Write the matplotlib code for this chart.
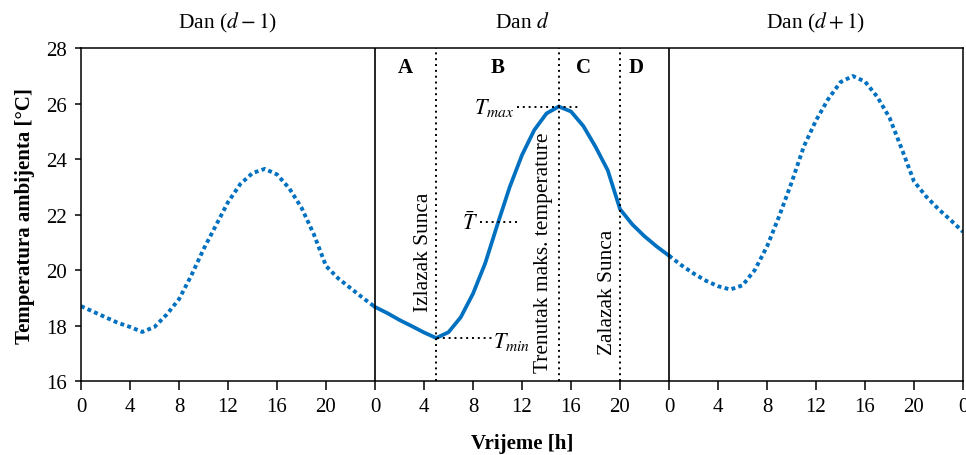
import matplotlib
matplotlib.use('Agg')
import matplotlib.pyplot as plt
import numpy as np

# Font settings (Times-like look)
plt.rcParams.update({
    'font.family': ['Liberation Serif', 'DejaVu Serif'],
    'mathtext.fontset': 'stix',
    'font.size': 15,
    'axes.linewidth': 1.1,
})

# Hourly ambient temperature, three consecutive days
hours = list(range(0, 25))
temp_prev = [18.70, 18.50, 18.30, 18.10, 17.95, 17.77, 17.95, 18.40, 18.95, 19.80,
             20.75, 21.60, 22.45, 23.10, 23.50, 23.65, 23.45, 22.95, 22.25, 21.30,
             20.15, 19.70, 19.35, 19.00, 18.67]
temp_day = [18.67, 18.45, 18.20, 17.98, 17.75, 17.55, 17.76, 18.30, 19.15, 20.25,
            21.65, 23.00, 24.15, 25.05, 25.65, 25.90, 25.72, 25.20, 24.45, 23.60,
            22.20, 21.65, 21.22, 20.85, 20.52]
temp_next = [20.52, 20.18, 19.88, 19.62, 19.42, 19.30, 19.45, 20.00, 20.85, 21.95,
             23.15, 24.45, 25.40, 26.17, 26.78, 27.00, 26.80, 26.25, 25.50, 24.37,
             23.20, 22.65, 22.20, 21.80, 21.38]

day_titles = ['Dan ($d-1$)', 'Dan $d$', 'Dan ($d+1$)']
sunrise, t_peak, sunset = 5, 15, 20
t_min, t_mean, t_max = 17.55, 21.72, 25.90
sections = ['A', 'B', 'C', 'D']
section_x = [2.45, 10.0, 17.0, 21.3]

blue = '#0070C0'

fig = plt.figure(figsize=(9.66, 4.56), dpi=100)
ax = fig.add_axes([81/966, 1 - 382/456, (963 - 81)/966, (382 - 49.3)/456])

h = np.array(hours)
ax.plot(h, temp_prev, color=blue, lw=2.8, linestyle=(0, (1, 0.85)))
ax.plot(h + 24, temp_day, color=blue, lw=2.7, solid_joinstyle='round')
ax.plot(h + 48, temp_next, color=blue, lw=2.8, linestyle=(0, (1, 0.85)))

# Day separators
for d in (24, 48):
    ax.axvline(d, color='black', lw=1.2)

# Event lines in day d
for ev in (sunrise, t_peak, sunset):
    ax.axvline(24 + ev, color='black', lw=1.4, linestyle=(0, (1, 2)))

# Reference levels
ax.plot([24 + 5.05, 24 + 9.55], [t_min, t_min], color='black', lw=1.4, linestyle=(0, (1, 2)))
ax.plot([24 + 8.6, 24 + 11.6], [t_mean, t_mean], color='black', lw=1.4, linestyle=(0, (1, 2)))
ax.plot([24 + 11.6, 24 + 16.6], [t_max, t_max], color='black', lw=1.4, linestyle=(0, (1, 2)))

ax.text(24 + 9.65, t_min - 0.1, '$T_{min}$', ha='left', va='center', fontsize=16)
ax.text(24 + 8.4, t_mean, r'$\bar{T}$', ha='right', va='center', fontsize=16)
ax.text(24 + 11.4, t_max, '$T_{max}$', ha='right', va='center', fontsize=16)

ax.text(24 + 3.95, 20.67, 'Izlazak Sunca', rotation=90, ha='center', va='center', fontsize=15.4)
ax.text(24 + 13.76, 20.67, 'Trenutak maks. temperature', rotation=90, ha='center', va='center', fontsize=15.4)
ax.text(24 + 19.0, 19.23, 'Zalazak Sunca', rotation=90, ha='center', va='center', fontsize=15.4)

for s, sx in zip(sections, section_x):
    ax.text(24 + sx, 27.33, s, ha='center', va='center', fontsize=15, fontweight='bold')

for i, t in enumerate(day_titles):
    ax.text(12 + 24 * i, 28.95, t, ha='center', va='center', fontsize=15.5)

ax.set_xlim(0, 72)
ax.set_ylim(16, 28)
xt = list(range(0, 73, 4))
ax.set_xticks(xt)
ax.set_xticklabels([str(v % 24) for v in xt])
ax.set_yticks(range(16, 29, 2))
ax.tick_params(axis='x', direction='out', length=6.5, width=1.1, pad=5, labelsize=15)
ax.tick_params(axis='y', direction='out', length=4, width=1.1, pad=6, labelsize=15)

ax.set_xlabel('Vrijeme [h]', fontweight='bold', fontsize=15, labelpad=12)
ax.set_ylabel('Temperatura ambijenta [°C]', fontweight='bold', fontsize=15, labelpad=8)

fig.savefig('out.png', dpi=100)
